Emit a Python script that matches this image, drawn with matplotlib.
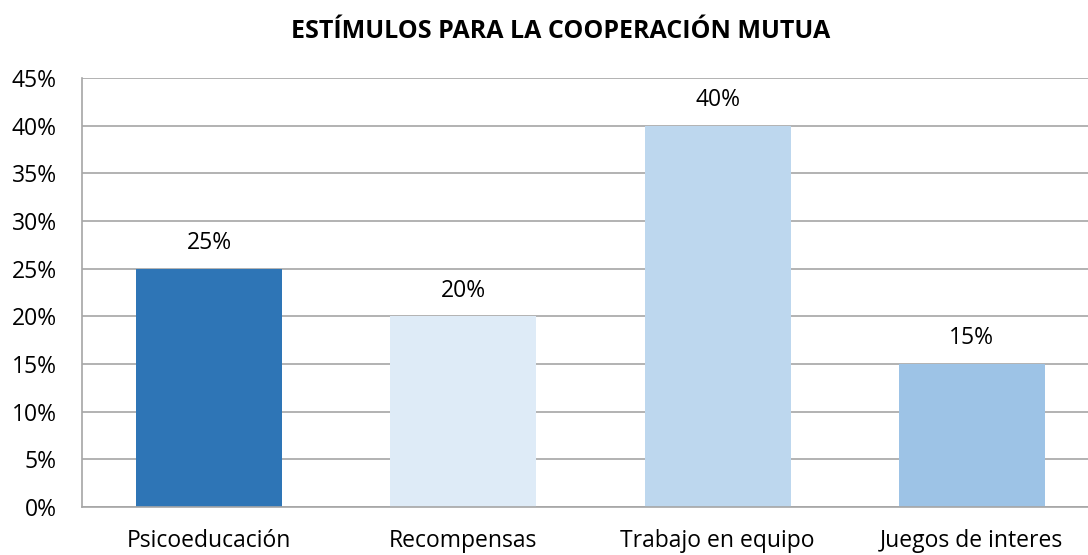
import matplotlib.pyplot as plt
from matplotlib.ticker import FuncFormatter

categorias = ['Psicoeducación', 'Recompensas', 'Trabajo en equipo', 'Juegos de interes']
valores = [25, 20, 40, 15]
colores = ['#2E75B6', '#DEEBF7', '#BDD7EE', '#9DC3E6']

plt.rcParams['font.family'] = ['Open Sans', 'DejaVu Sans']

fig = plt.figure(figsize=(10.88, 5.55), dpi=100)
ax = fig.add_axes([82 / 1088, 1 - 507 / 555, 1017 / 1088, 429 / 555])

x = range(len(categorias))
ax.bar(x, valores, width=0.575, color=colores, zorder=2)

for xi, v in zip(x, valores):
    ax.text(xi, v + 2.7, f'{v}%', ha='center', va='center', fontsize=16.5, color='#000000')

ax.set_xlim(-0.5, len(categorias) - 0.5)
ax.set_ylim(0, 45)
ax.set_yticks(range(0, 46, 5))
ax.yaxis.set_major_formatter(FuncFormatter(lambda v, p: f'{int(v)}%'))
ax.set_xticks(list(x))
ax.set_xticklabels(categorias)
ax.tick_params(axis='both', length=0, labelsize=16.5, colors='#000000')
ax.tick_params(axis='x', pad=16)
ax.tick_params(axis='y', pad=18)

ax.grid(axis='y', color='#A6A6A6', linewidth=1.2, zorder=0)
for s in ['top', 'right']:
    ax.spines[s].set_visible(False)
for s in ['left', 'bottom']:
    ax.spines[s].set_color('#A6A6A6')
    ax.spines[s].set_linewidth(1.2)

fig.text(561 / 1088, 1 - 32 / 555, 'ESTÍMULOS PARA LA COOPERACIÓN MUTUA',
         ha='center', va='center', fontsize=18, fontweight='bold')

fig.savefig('out.png', dpi=100)
